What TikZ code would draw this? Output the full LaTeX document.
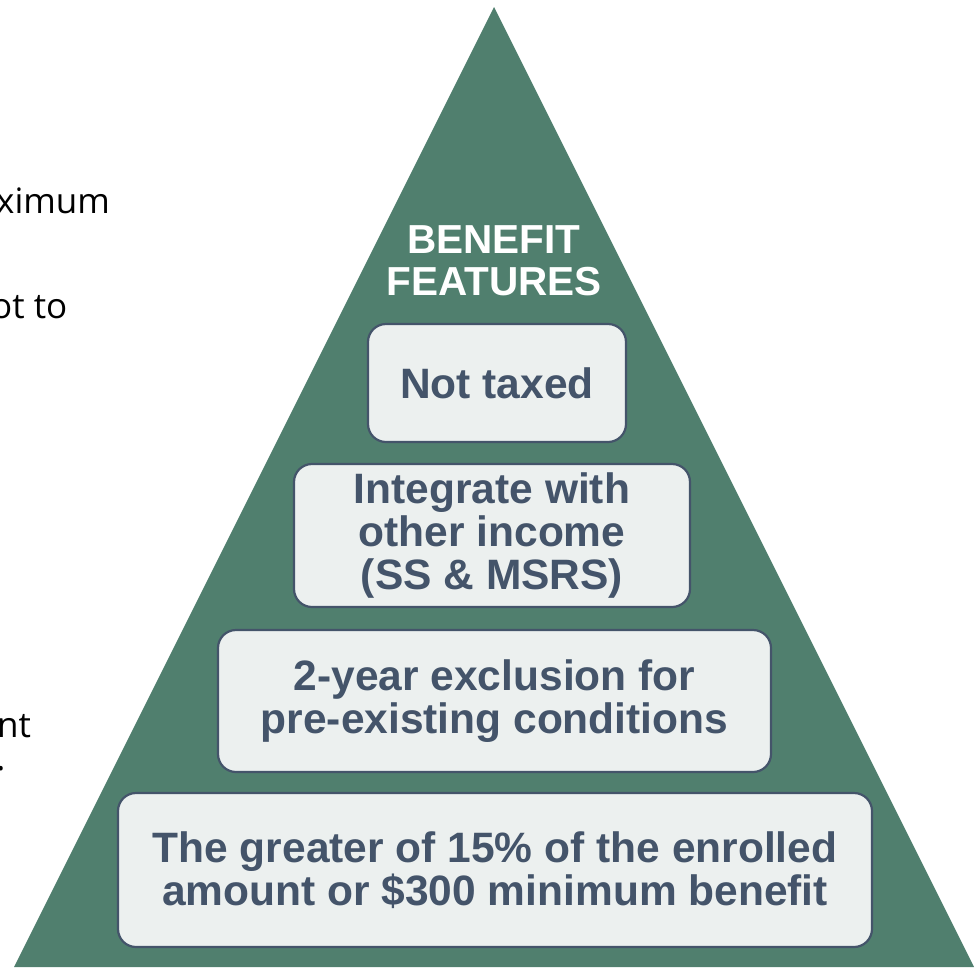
\documentclass[tikz,border=0pt]{standalone}
\usepackage{fontspec}
\setmainfont{Liberation Sans}
\newfontfamily\leftfont{Open Sans}
\definecolor{pyrgreen}{HTML}{507F6E}
\definecolor{boxfill}{HTML}{ECF0EF}
\definecolor{slate}{HTML}{44546A}
\begin{document}
\begin{tikzpicture}[x=1pt,y=-1pt,
  featbox/.style={draw=slate, line width=2.2pt, fill=boxfill, rounded corners=18pt,
    align=center, text=slate, font=\fontsize{42.5}{43}\selectfont\bfseries, inner sep=0pt},
  headtxt/.style={align=center, text=white, font=\fontsize{40.5}{42}\selectfont\bfseries, inner sep=0pt},
  sidetxt/.style={anchor=base west, font=\leftfont\fontsize{35}{40}\selectfont, text=black, inner sep=0pt}]
\useasboundingbox (0,0) rectangle (975,967);
\begin{scope}
\clip (0,0) rectangle (975,967);
\fill[pyrgreen] (494,7) -- (14,967) -- (974,967) -- cycle;
\node[sidetxt] (s1) at (-4,213) {ximum};
\node[sidetxt] (s2) at (-9,318) {ot to};
\node[sidetxt] (s3) at (-3,737) {nt};
\node[sidetxt] (s4) at (-4,770) {.};
\end{scope}
\node[headtxt] (head) at (494,261) {BENEFIT\\FEATURES};
\node[featbox, minimum width=258pt, minimum height=118pt] (b1) at (497,383) {Not taxed};
\node[featbox, minimum width=396pt, minimum height=143pt] (b2) at (492,535.5) {Integrate with\\other income\\(SS \& MSRS)};
\node[featbox, minimum width=553pt, minimum height=142pt] (b3) at (494.5,701) {2-year exclusion for\\pre-existing conditions};
\node[featbox, minimum width=754pt, minimum height=154pt] (b4) at (495,870) {The greater of 15\% of the enrolled\\amount or \$300 minimum benefit};
\end{tikzpicture}
\end{document}
